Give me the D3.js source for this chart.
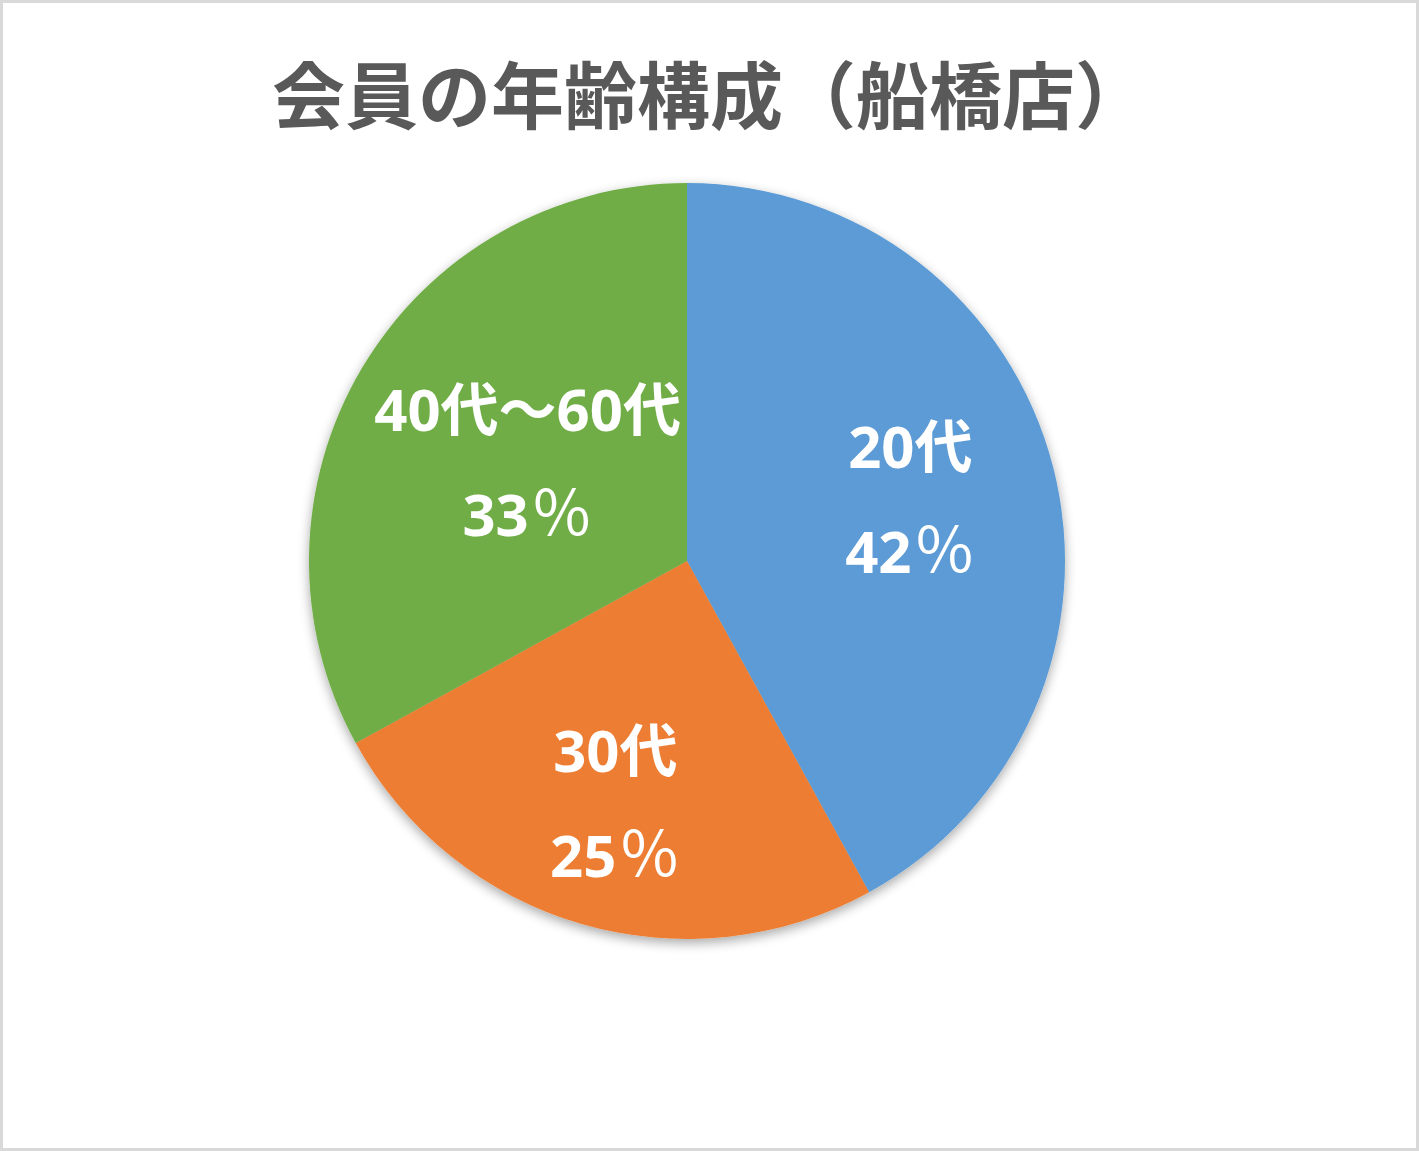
<!DOCTYPE html>
<html>
<head>
<meta charset="utf-8">
<script src="https://cdn.jsdelivr.net/npm/d3@7"></script>
<style>
  html, body { margin: 0; padding: 0; background: #fff; }
  svg { display: block; }
</style>
</head>
<body>
<svg id="chart" width="1419" height="1151"></svg>
<script>
// data
var categories = ["20代", "30代", "40代～60代"];
var shares = [42, 25, 33];
var pctValues = ["42", "25", "33"];
var pctSign = "％";
var colors = ["#5b9bd5", "#ed7d31", "#70ad47"];
var labelRadius = [0.61, 0.68, 0.49];   // label distance, fraction of radius

var titleText = "会員の年齢構成（船橋店）";

var svg = d3.select("#chart"),
    width = +svg.attr("width"),
    height = +svg.attr("height");

// outer frame
svg.append("rect")
    .attr("x", 1.5).attr("y", 1.5)
    .attr("width", width - 3).attr("height", height - 3)
    .attr("fill", "#fff")
    .attr("stroke", "#d9d9d9")
    .attr("stroke-width", 3);

// soft shadow under the pie
var defs = svg.append("defs");
var f = defs.append("filter").attr("id", "shadow")
    .attr("x", "-20%").attr("y", "-20%").attr("width", "140%").attr("height", "140%");
f.append("feGaussianBlur").attr("in", "SourceAlpha").attr("stdDeviation", 6);
f.append("feOffset").attr("dx", 0).attr("dy", 4).attr("result", "b");
f.append("feComponentTransfer").append("feFuncA").attr("type", "linear").attr("slope", 0.35);
var m = f.append("feMerge");
m.append("feMergeNode");
m.append("feMergeNode").attr("in", "SourceGraphic");

svg.append("text")
    .attr("x", 710)
    .attr("y", 123)
    .attr("text-anchor", "middle")
    .attr("fill", "#595959")
    .attr("font-family", "'Noto Sans CJK JP', sans-serif")
    .attr("font-weight", "bold")
    .attr("font-size", "73px")
    .text(titleText);

var cx = 687, cy = 561, radius = 378;

var pie = d3.pie().sort(null).value(function(d) { return d; });
var arc = d3.arc().innerRadius(0).outerRadius(radius);

var arcs = pie(shares);

var g = svg.append("g")
    .attr("transform", "translate(" + cx + "," + cy + ")");

g.append("g")
    .attr("filter", "url(#shadow)")
    .selectAll("path")
    .data(arcs)
    .enter().append("path")
    .attr("d", arc)
    .attr("fill", function(d, i) { return colors[i]; });

var labels = g.selectAll(".lbl")
    .data(arcs)
    .enter().append("text")
    .attr("class", "lbl")
    .attr("transform", function(d, i) {
        var r = radius * labelRadius[i];
        var a = (d.startAngle + d.endAngle) / 2;
        return "translate(" + (r * Math.sin(a)) + "," + (-r * Math.cos(a)) + ")";
    })
    .attr("text-anchor", "middle")
    .attr("fill", "#fff")
    .attr("font-family", "'Open Sans', 'Noto Sans CJK JP', sans-serif")
    .attr("font-weight", "bold")
    .attr("font-size", "58px");

labels.append("tspan")
    .attr("x", 0)
    .attr("y", -36)
    .text(function(d, i) { return categories[i]; });

var pct = labels.append("tspan")
    .attr("x", 0)
    .attr("y", 69);
pct.append("tspan")
    .text(function(d, i) { return pctValues[i]; });
pct.append("tspan")
    .attr("font-family", "'Noto Sans CJK JP', sans-serif")
    .attr("font-weight", 400)
    .attr("font-size", "62px")
    .attr("dx", 2)
    .text(pctSign);
</script>
</body>
</html>
